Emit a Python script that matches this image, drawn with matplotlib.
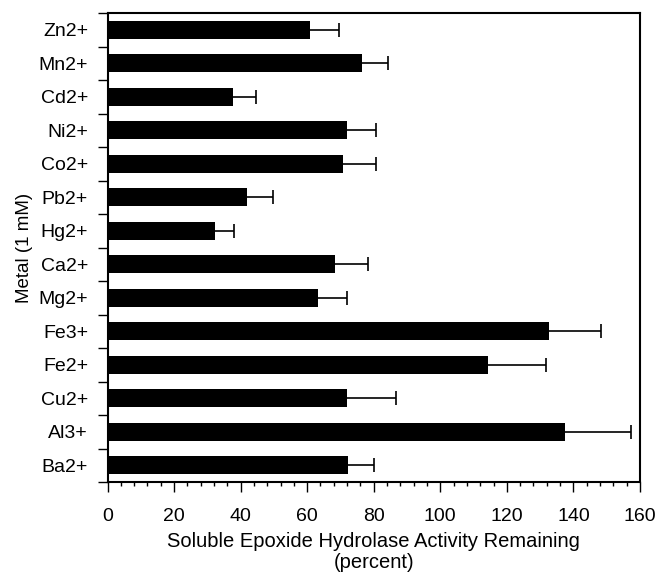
import matplotlib.pyplot as plt
import numpy as np

plt.rcParams['font.family'] = ['Liberation Sans', 'DejaVu Sans']

metals = ['Zn2+', 'Mn2+', 'Cd2+', 'Ni2+', 'Co2+', 'Pb2+', 'Hg2+',
          'Ca2+', 'Mg2+', 'Fe3+', 'Fe2+', 'Cu2+', 'Al3+', 'Ba2+']
activity = [60.8, 76.6, 37.6, 72.1, 70.8, 41.9, 32.2,
            68.5, 63.1, 132.6, 114.2, 72.0, 137.4, 72.4]
upper = [69.5, 84.3, 44.5, 80.8, 80.7, 49.7, 38.1,
         78.3, 72.0, 148.4, 131.9, 86.8, 157.4, 80.2]

pos = np.arange(len(metals))

fig = plt.figure(figsize=(6.58, 5.73), dpi=100)
ax = fig.add_axes([0.1634, 0.1588, 0.8092, 0.8185])

ax.barh(pos, activity, height=0.55, color='black', zorder=2)
# one-sided error bars: line out to the upper value, cap at its end only
ax.hlines(pos, activity, upper, color='black', linewidth=1.2, zorder=1)
ax.plot(upper, pos, linestyle='none', marker='|', markersize=10,
        markeredgewidth=1.2, color='black', zorder=1)

ax.set_xlim(0, 160)
ax.set_ylim(len(metals) - 0.5, -0.5)
ax.set_xticks(np.arange(0, 161, 20))
ax.set_xticks(np.arange(0, 161, 4), minor=True)
ax.set_yticks(pos)
ax.set_yticklabels(metals, fontsize=14)
ax.set_yticks(np.arange(-0.5, len(metals), 1), minor=True)
ax.tick_params(axis='x', which='major', length=7, width=1, labelsize=14, pad=12)
ax.tick_params(axis='x', which='minor', length=3, width=1)
ax.tick_params(axis='y', which='major', length=0, pad=14)
ax.tick_params(axis='y', which='minor', length=7, width=1)

for s in ax.spines.values():
    s.set_linewidth(1.5)

ax.set_xlabel('Soluble Epoxide Hydrolase Activity Remaining\n(percent)',
              fontsize=14.5, labelpad=5, linespacing=1.1)
ax.set_ylabel('Metal (1 mM)', fontsize=13.5, labelpad=4)

fig.savefig('out.png', dpi=100)
